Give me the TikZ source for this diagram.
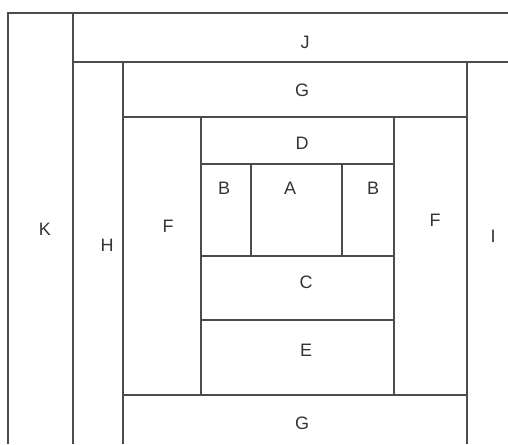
\documentclass[tikz,border=0pt]{standalone}
\usepackage{fontspec}
\setmainfont{Liberation Sans}
\usepackage{tikz}
\usetikzlibrary{positioning}

\tikzset{
    wall/.style={line width=1.8pt, draw=black!70},
    tag/.style={font=\fontsize{18}{18}\selectfont, text=black!80, inner sep=0pt}
}

\begin{document}
\begin{tikzpicture}[x=1pt, y=-1pt]
    \useasboundingbox (0,0) rectangle (508,444);
    % outer strips
    \draw[wall] (8,444) -- (8,13) -- (508,13);
    \draw[wall] (73,444) -- (73,13);
    \draw[wall] (73,62) -- (508,62);
    \draw[wall] (123,444) -- (123,62);
    \draw[wall] (467,444) -- (467,62);
    % G rows
    \draw[wall] (123,117) -- (467,117);
    \draw[wall] (123,395) -- (467,395);
    % F columns
    \draw[wall] (201,117) -- (201,395);
    \draw[wall] (394,117) -- (394,395);
    % centre block
    \draw[wall] (201,164) -- (394,164);
    \draw[wall] (251,164) -- (251,256);
    \draw[wall] (342,164) -- (342,256);
    \draw[wall] (201,256) -- (394,256);
    \draw[wall] (201,320) -- (394,320);
    % labels
    \node[tag] (labJ) at (305,42) {J};
    \node[tag] (labGt) at (302,90) {G};
    \node[tag] (labD) at (302,143) {D};
    \node[tag] (labBl) at (224,188) {B};
    \node[tag] (labA) at (290,188) {A};
    \node[tag] (labBr) at (373,188) {B};
    \node[tag] (labC) at (306,282) {C};
    \node[tag] (labE) at (306,350) {E};
    \node[tag] (labGb) at (302,423) {G};
    \node[tag] (labK) at (45,229) {K};
    \node[tag] (labH) at (107,245) {H};
    \node[tag] (labFl) at (168,226) {F};
    \node[tag] (labFr) at (435,220) {F};
    \node[tag] (labI) at (493,236) {I};
\end{tikzpicture}
\end{document}
